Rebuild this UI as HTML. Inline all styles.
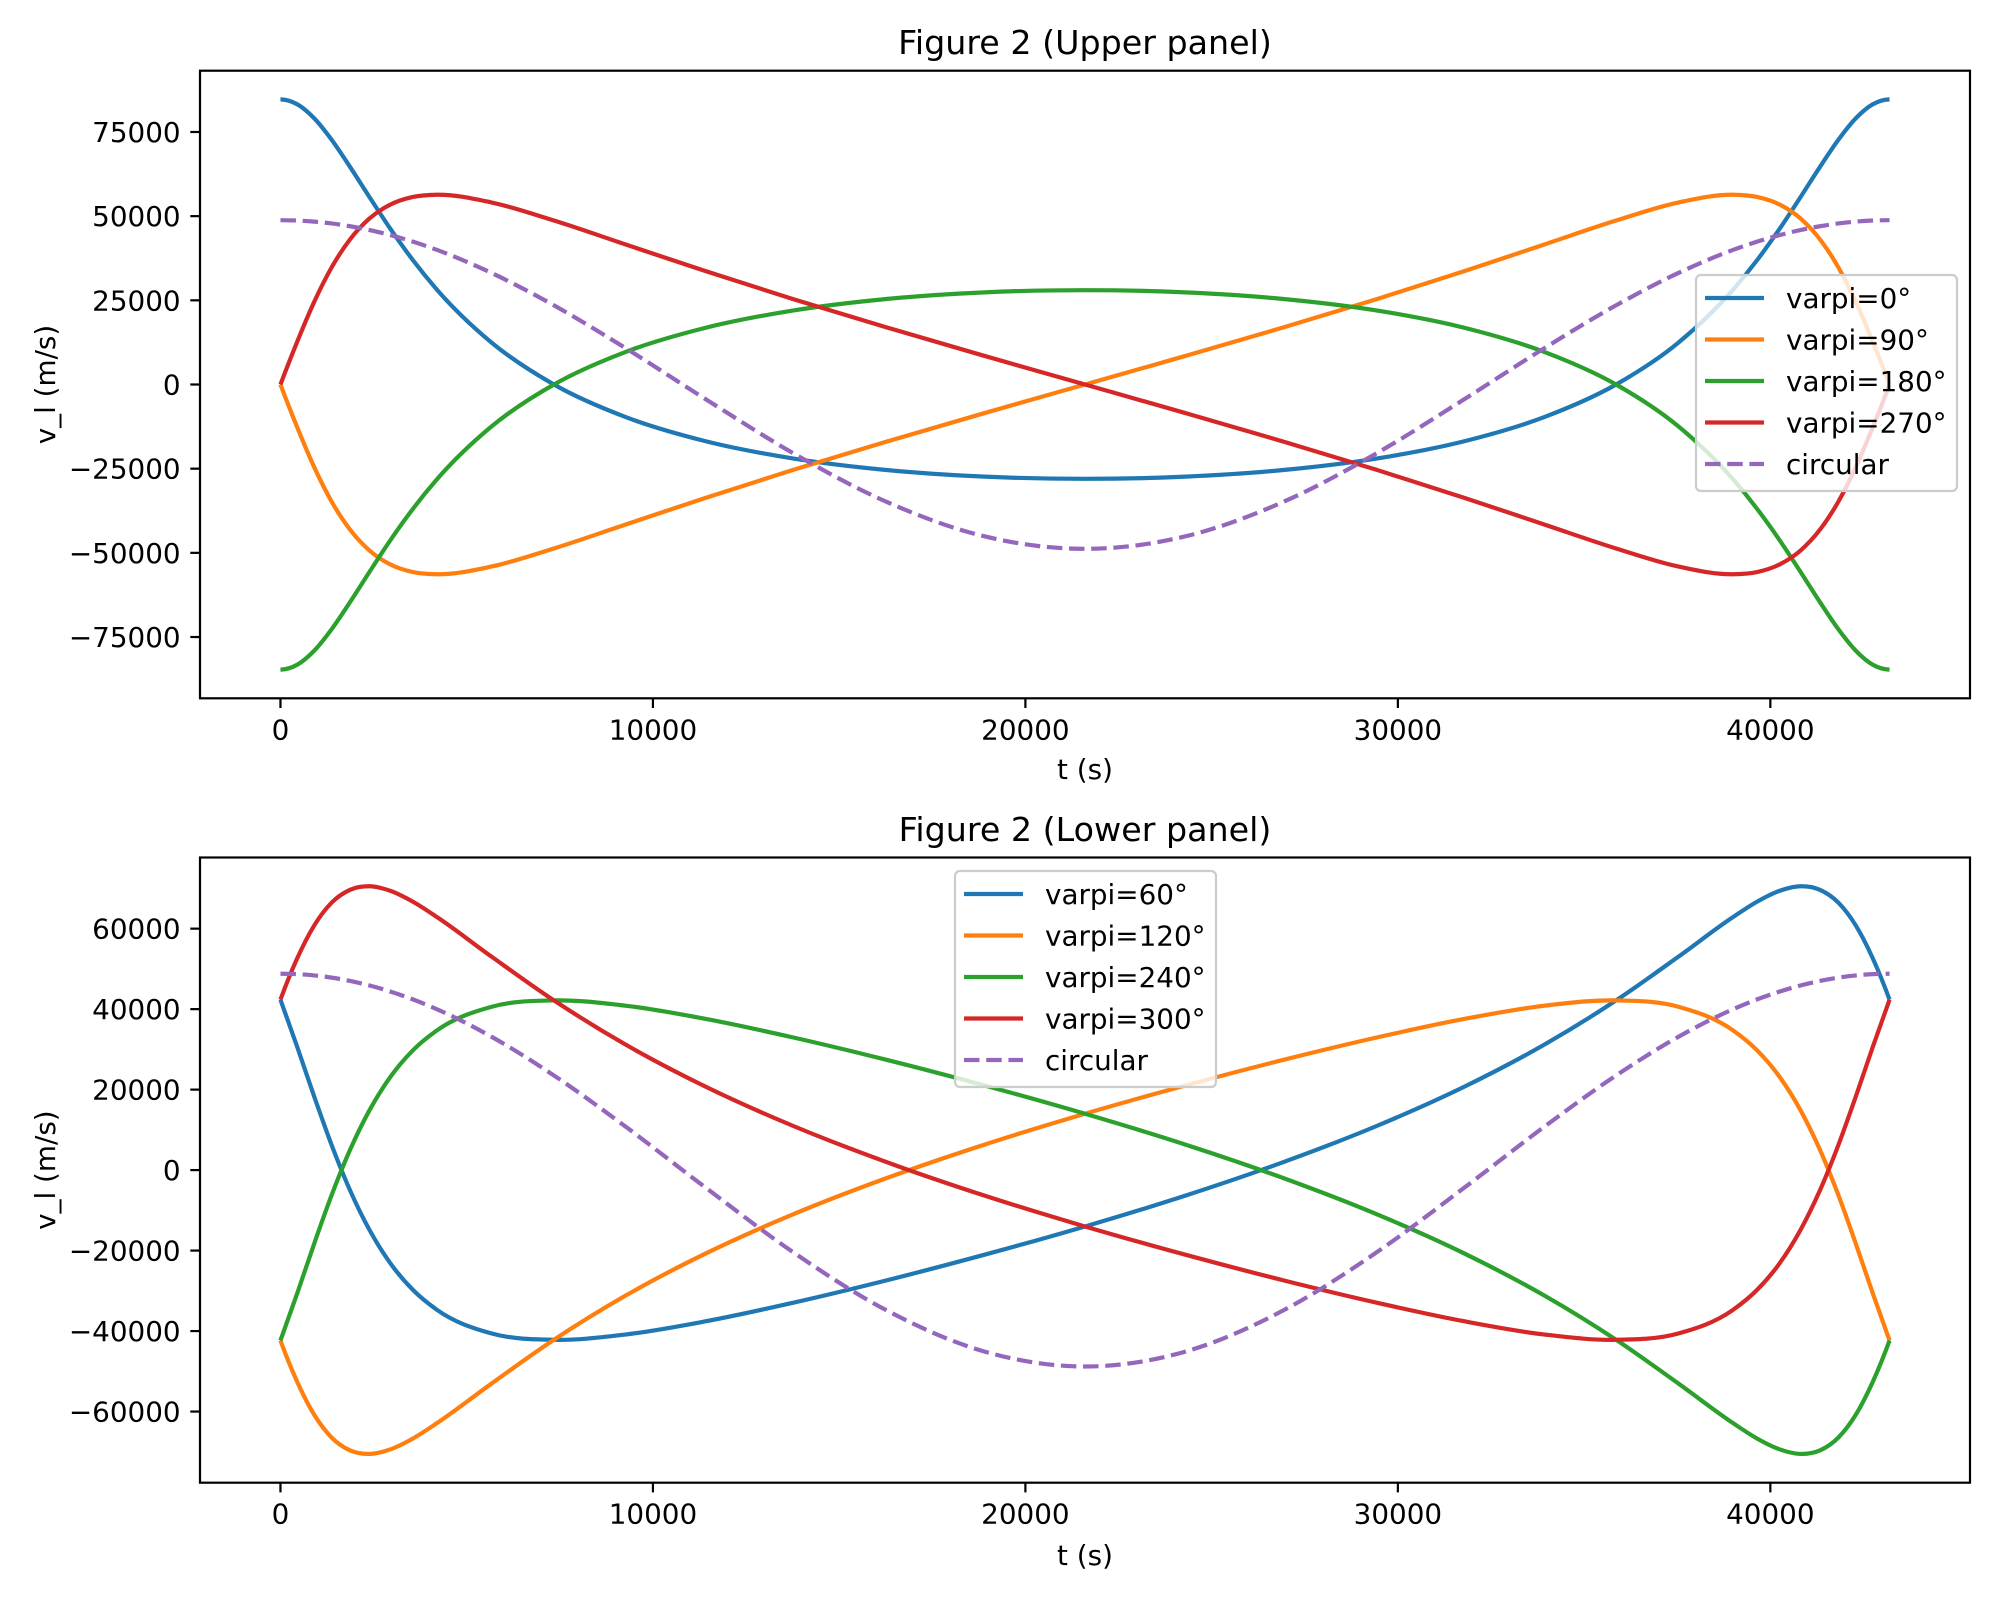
<!DOCTYPE html>
<html><head><meta charset="utf-8"><style>
html,body{margin:0;padding:0;background:#fff}
svg{display:block}
text{font-family:"DejaVu Sans","Liberation Sans",sans-serif;fill:#000}
</style></head><body>
<svg id="fig" width="2000" height="1600" viewBox="0 0 2000 1600" xmlns="http://www.w3.org/2000/svg">
<rect width="2000" height="1600" fill="#fff"/>
</svg>
<script>
// ---- data ----
const times = [0,449,905,1376,1871,2395,2954,3556,4205,5660,7342,9260,11405,13754,16271,18905,21600,24295,26929,29446,31795,33940,35858,37540,38995,39644,40246,40805,41329,41824,42295,42751,43200];
const upperLabels = ["varpi=0°","varpi=90°","varpi=180°","varpi=270°","circular"];
const lowerLabels = ["varpi=60°","varpi=120°","varpi=240°","varpi=300°","circular"];
const v0 = [84690,83240,79080,72650,64580,55575,46190,36933,28115,12520,0,-9640,-16820,-21960,-25400,-27370,-28010,-27370,-25400,-21960,-16820,-9640,0,12520,28115,36933,46190,55575,64580,72650,79080,83240,84690];
const v90 = [0,-12680,-24520,-34820,-43150,-49350,-53450,-55700,-56350,-54080,-48700,-41620,-33700,-25400,-16970,-8480,0,8480,16970,25400,33700,41620,48700,54080,56350,55700,53450,49350,43150,34820,24520,12680,0];
const v180 = [-84690,-83240,-79080,-72650,-64580,-55575,-46190,-36933,-28115,-12520,0,9640,16820,21960,25400,27370,28010,27370,25400,21960,16820,9640,0,-12520,-28115,-36933,-46190,-55575,-64580,-72650,-79080,-83240,-84690];
const v270 = [0,12680,24520,34820,43150,49350,53450,55700,56350,54080,48700,41620,33700,25400,16970,8480,0,-8480,-16970,-25400,-33700,-41620,-48700,-54080,-56350,-55700,-53450,-49350,-43150,-34820,-24520,-12680,0];
const vCirc = [48800,48700,48380,47830,47000,45870,44360,42420,39960,33170,23520,10840,-4290,-20330,-34840,-45100,-48800,-45100,-34840,-20330,-4290,10840,23520,33170,39960,42420,44360,45870,47000,47830,48380,48700,48800];
const v60 = [42345,30640,18310,6171,-5080,-14952,-23195,-29769,-34742,-40570,-42170,-40860,-37590,-32980,-27400,-21025,-14005,-6345,2000,11020,20770,31220,42170,53090,62858,66703,69385,70528,69660,66479,60770,52600,42345];
const v300 = [42345,52600,60770,66479,69660,70528,69385,66703,62858,53090,42170,31220,20770,11020,2000,-6345,-14005,-21025,-27400,-32980,-37590,-40860,-42170,-40570,-34742,-29769,-23195,-14952,-5080,6171,18310,30640,42345];
const v120 = [-42345,-52600,-60770,-66479,-69660,-70528,-69385,-66703,-62858,-53090,-42170,-31220,-20770,-11020,-2000,6345,14005,21025,27400,32980,37590,40860,42170,40570,34742,29769,23195,14952,5080,-6171,-18310,-30640,-42345];
const v240 = [-42345,-30640,-18310,-6171,5080,14952,23195,29769,34742,40570,42170,40860,37590,32980,27400,21025,14005,6345,-2000,-11020,-20770,-31220,-42170,-53090,-62858,-66703,-69385,-70528,-69660,-66479,-60770,-52600,-42345];
const xTicks = [0,10000,20000,30000,40000];
const upperYTicks = [-75000,-50000,-25000,0,25000,50000,75000];
const lowerYTicks = [-60000,-40000,-20000,0,20000,40000,60000];

const colors = ["#1f77b4","#ff7f0e","#2ca02c","#d62728","#9467bd"];
const NS = "http://www.w3.org/2000/svg";
const svg = document.getElementById("fig");
function mk(tag, attrs, parent){const e=document.createElementNS(NS,tag);for(const k in attrs)e.setAttribute(k,attrs[k]);(parent||svg).appendChild(e);return e;}
function fmt(v){return v<0?"\u2212"+Math.abs(v):String(v);}

function panel(cfg){
  const g = mk("g",{});
  
  
  const L=200, R=1970, T=cfg.top, B=cfg.bottom;
  const xmin=-2160, xmax=45360;
  const sx = v => L + (v - xmin)/(xmax - xmin)*(R-L);
  const sy = v => B - (v - cfg.ymin)/(cfg.ymax - cfg.ymin)*(B-T);
  const clipId = cfg.name+"-clip";
  const cp = mk("clipPath",{id:clipId},g); mk("rect",{x:L,y:T,width:R-L,height:B-T},cp);
  const sg = mk("g",{"clip-path":"url(#"+clipId+")"},g);
  cfg.series.forEach((vals,i)=>{
    const n = times.length;
    const m = vals.map((v,k)=>{
      if(k===0||k===n-1) return 0;
      const d0=(vals[k]-vals[k-1])/(times[k]-times[k-1]);
      const d1=(vals[k+1]-vals[k])/(times[k+1]-times[k]);
      const h0=times[k]-times[k-1], h1=times[k+1]-times[k];
      return (d0*h1+d1*h0)/(h0+h1);
    });
    m[0] = 2*(vals[1]-vals[0])/(times[1]-times[0]) - m[1];
    m[n-1] = 2*(vals[n-1]-vals[n-2])/(times[n-1]-times[n-2]) - m[n-2];
    let d = "M"+sx(times[0]).toFixed(2)+","+sy(vals[0]).toFixed(2);
    for(let k=0;k<n-1;k++){
      const h=times[k+1]-times[k];
      const c1x=sx(times[k]+h/3), c1y=sy(vals[k]+m[k]*h/3);
      const c2x=sx(times[k+1]-h/3), c2y=sy(vals[k+1]-m[k+1]*h/3);
      d+=" C"+c1x.toFixed(2)+","+c1y.toFixed(2)+" "+c2x.toFixed(2)+","+c2y.toFixed(2)+" "+sx(times[k+1]).toFixed(2)+","+sy(vals[k+1]).toFixed(2);
    }
    const a={d:d,fill:"none",stroke:colors[i],"stroke-width":4.2,"stroke-linejoin":"round"};
    if(i===4){a["stroke-dasharray"]="15.5,6.7";}
    const p = mk("path",a,sg);
    
    
  });
  const fr = mk("rect",{x:L,y:T,width:R-L,height:B-T,fill:"none",stroke:"#000","stroke-width":2.2},g);
  
  
  xTicks.forEach(v=>{
    const x=sx(v);
    mk("line",{x1:x,y1:B,x2:x,y2:B+9.7,stroke:"#000","stroke-width":2.2},g);
    const t=mk("text",{x:x,y:B+41,"font-size":27.8,"text-anchor":"middle"},g);
    t.textContent=fmt(v);
    
    
  });
  cfg.yTicks.forEach(v=>{
    const y=sy(v);
    mk("line",{x1:L,y1:y,x2:L-9.7,y2:y,stroke:"#000","stroke-width":2.2},g);
    const t=mk("text",{x:L-19.4,y:y+10,"font-size":27.8,"text-anchor":"end"},g);
    t.textContent=fmt(v);
    
    
  });
  const ti=mk("text",{x:(L+R)/2,y:T-16.7,"font-size":33.3,"text-anchor":"middle"},g);
  ti.textContent=cfg.title;
  
  
  const xl=mk("text",{x:(L+R)/2,y:cfg.xlabelY,"font-size":27.8,"text-anchor":"middle"},g);
  xl.textContent="t (s)";
  
  
  const cy=(T+B)/2;
  const yl=mk("text",{x:55,y:cy,"font-size":27.8,"text-anchor":"middle",transform:"rotate(-90 55 "+cy+")"},g);
  yl.textContent="v_l (m/s)";
  
  
  const lg = mk("g",{},g);
  
  
  const bx=cfg.legX, by=cfg.legY;
  mk("rect",{x:bx,y:by,width:261,height:216,rx:5,fill:"#fff","fill-opacity":0.8,stroke:"#cccccc","stroke-width":2.2},lg);
  cfg.labels.forEach((lab,i)=>{
    const y=by+23+i*41.5;
    const ln=mk("line",{x1:bx+9,y1:y,x2:bx+68,y2:y,stroke:colors[i],"stroke-width":4.2},lg);
    if(i===4) ln.setAttribute("stroke-dasharray","15.5,6.7");
    const t=mk("text",{x:bx+90,y:y+10,"font-size":27.8},lg);
    t.textContent=lab;
    
    
  });
}

panel({name:"upper-panel",title:"Figure 2 (Upper panel)",top:70.7,bottom:698.3,ymin:-93200,ymax:93200,
  yTicks:upperYTicks,series:[v0,v90,v180,v270,vCirc],labels:upperLabels,xlabelY:779,legX:1696,legY:275});
panel({name:"lower-panel",title:"Figure 2 (Lower panel)",top:857.5,bottom:1482.7,ymin:-77680,ymax:77680,
  yTicks:lowerYTicks,series:[v60,v120,v240,v300,vCirc],labels:lowerLabels,xlabelY:1565,legX:955,legY:871});
</script>
</body></html>
